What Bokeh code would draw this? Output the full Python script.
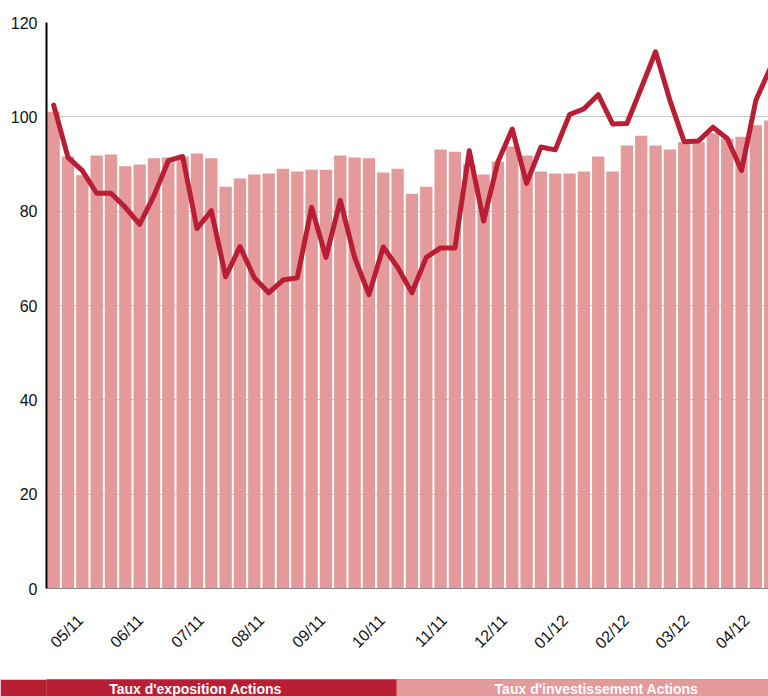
import math
from bokeh.plotting import figure
from bokeh.models import Range1d, FixedTicker, ColumnDataSource
from bokeh.layouts import column
from bokeh.core.properties import value
from bokeh.embed import file_html
from bokeh.resources import INLINE

# ---- data -------------------------------------------------------------
investissement = [101.1, 91.6, 87.6, 91.8, 92.0, 89.5, 89.9, 91.2, 91.4, 91.6,
                  92.2, 91.2, 85.2, 86.9, 87.8, 88.0, 89.0, 88.4, 88.8, 88.8,
                  91.8, 91.4, 91.2, 88.2, 89.0, 83.7, 85.2, 93.1, 92.6, 89.9,
                  87.8, 90.5, 93.7, 91.8, 88.4, 88.0, 88.0, 88.4, 91.6, 88.4,
                  93.9, 96.0, 93.9, 93.1, 94.6, 94.6, 96.5, 95.4, 95.8, 98.2,
                  99.2]
exposition = [102.5, 91.4, 88.6, 83.8, 83.8, 80.8, 77.2, 83.3, 90.7, 91.6,
              76.3, 80.1, 66.1, 72.5, 65.9, 62.7, 65.4, 65.9, 80.8, 70.2,
              82.3, 70.2, 62.3, 72.4, 68.1, 62.7, 70.2, 72.2, 72.2, 92.8,
              77.9, 90.5, 97.4, 85.9, 93.6, 93.0, 100.5, 101.7, 104.7, 98.5,
              98.6, 106.1, 113.8, 103.5, 94.7, 94.9, 97.8, 95.4, 88.6, 103.5,
              110.3]
idx = list(range(len(investissement)))

month_labels = ["05/11", "06/11", "07/11", "08/11", "09/11", "10/11",
                "11/11", "12/11", "01/12", "02/12", "03/12", "04/12"]
month_ticks = [1.87, 6.05, 10.3, 14.49, 18.75, 22.92, 27.25, 31.45, 35.69,
               39.95, 44.15, 48.35]
y_ticks = [0, 20, 40, 60, 80, 100, 120]

legend_labels = ["Taux d'exposition Actions", "Taux d'investissement Actions"]

DARK = "#B81F35"
LIGHT = "#E4999B"
FONT = "Liberation Sans"

src = ColumnDataSource(dict(x=idx, inv=investissement, exp=exposition))

p = figure(width=768, height=679, output_backend="svg", toolbar_location=None,
           title=None,
           x_range=Range1d(-0.5, 49.88), y_range=Range1d(0, 120),
           min_border_left=46, min_border_right=0, min_border_top=22,
           min_border_bottom=91)
p.outline_line_color = None
p.background_fill_color = "white"

p.vbar(x="x", top="inv", width=0.86, bottom=0, source=src,
       fill_color=LIGHT, line_color=None)
p.line(x="x", y="exp", source=src, line_color=DARK, line_width=5,
       line_join="round", line_cap="round")

# grids
p.xgrid.visible = False
p.ygrid.grid_line_color = "#c8c8c8"
p.ygrid.grid_line_width = 1
p.ygrid.ticker = FixedTicker(ticks=y_ticks)

# y axis
ya = p.yaxis[0]
ya.ticker = FixedTicker(ticks=y_ticks)
ya.axis_line_color = "black"
ya.axis_line_width = 2
ya.major_tick_line_color = None
ya.minor_tick_line_color = None
ya.major_tick_out = 0
ya.major_tick_in = 0
ya.major_label_standoff = 9
ya.major_label_text_font = FONT
ya.major_label_text_font_size = "16px"
ya.major_label_text_color = "#111111"

# x axis
xa = p.xaxis[0]
xa.ticker = FixedTicker(ticks=month_ticks)
xa.major_label_overrides = {t: lab for t, lab in zip(month_ticks, month_labels)}
xa.major_label_orientation = math.pi / 4
xa.axis_line_color = "#888888"
xa.axis_line_width = 1
xa.major_tick_line_color = None
xa.minor_tick_line_color = None
xa.major_tick_out = 0
xa.major_tick_in = 0
xa.major_label_standoff = 29
xa.major_label_text_font = FONT
xa.major_label_text_font_size = "16px"
xa.major_label_text_color = "#111111"

# ---- legend strip -----------------------------------------------------
leg = figure(width=768, height=17, output_backend="svg", toolbar_location=None,
             title=None,
             x_range=Range1d(46, 768), y_range=Range1d(0, 17),
             x_axis_location=None, y_axis_location=None,
             min_border_left=46, min_border_right=0,
             min_border_top=0, min_border_bottom=0)
leg.grid.visible = False
leg.outline_line_color = None
leg.border_fill_color = DARK
leg.background_fill_color = DARK
lsrc = ColumnDataSource(dict(left=[30, 396], right=[396, 780],
                             color=[DARK, LIGHT], tx=[195, 596],
                             label=legend_labels))
leg.quad(left="left", right="right", bottom=-5, top=25, color="color",
         line_color=None, source=lsrc)
leg.text(x="tx", y=8, text="label", source=lsrc, text_color="white",
         text_font=value(FONT), text_font_style="bold",
         text_font_size="14px", text_align="center",
         text_baseline="alphabetic")

layout = column(p, leg, spacing=0)
open("out.html", "w").write(file_html(layout, INLINE))
